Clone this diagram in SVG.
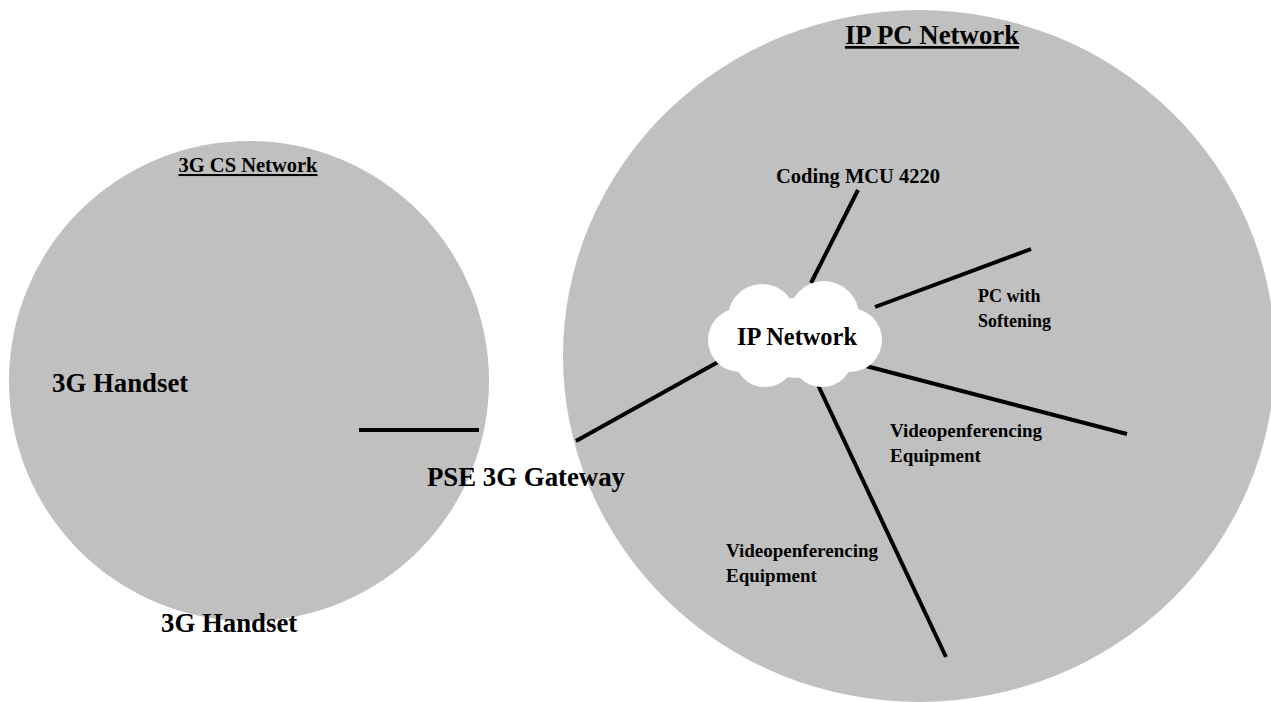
<svg xmlns="http://www.w3.org/2000/svg" width="1271" height="702" viewBox="0 0 1271 702">
<style>
text{font-family:"Liberation Serif","Times New Roman",serif;font-weight:bold;fill:#000}
.big{font-size:26.8px}
.mid{font-size:24.4px}
.sm{font-size:20.5px}
.vid{font-size:19px}
.pc{font-size:18px}
.ul{text-decoration:underline}
.net{fill:#c0c0c0}
.link{stroke:#000;stroke-width:4;fill:none}
.cloud circle{fill:#fff}
</style>
<rect width="1271" height="702" fill="#fff"/>
<g id="ip-pc-network">
<ellipse class="net" cx="919" cy="356" rx="356" ry="346"/>
<text class="big ul" x="932" y="44" text-anchor="middle">IP PC Network</text>
</g>
<g id="cs-network">
<circle class="net" cx="249" cy="381" r="240"/>
<text class="sm ul" x="248" y="172" text-anchor="middle">3G CS Network</text>
</g>
<g id="connectors">
<line class="link" x1="359" y1="430" x2="479" y2="430"/>
<line class="link" x1="576" y1="441" x2="718" y2="362"/>
<line class="link" x1="858" y1="190" x2="811" y2="283"/>
<line class="link" x1="875" y1="307" x2="1031" y2="249"/>
<line class="link" x1="866" y1="366" x2="1127" y2="434"/>
<line class="link" x1="818" y1="385" x2="946" y2="657"/>
</g>
<g id="ip-network" class="cloud">
<circle cx="762" cy="318" r="34"/>
<circle cx="824" cy="316" r="35"/>
<circle cx="740" cy="340" r="32"/>
<circle cx="850" cy="340" r="32"/>
<circle cx="765" cy="356" r="31"/>
<circle cx="822" cy="356" r="31"/>
<circle cx="795" cy="338" r="40"/>
<text class="mid" x="797" y="345" text-anchor="middle">IP Network</text>
</g>
<g id="handset-1"><text class="big" x="52" y="392">3G Handset</text></g>
<g id="handset-2"><text class="big" x="161" y="632">3G Handset</text></g>
<g id="gateway"><text class="big" x="427" y="486">PSE 3G Gateway</text></g>
<g id="mcu"><text class="sm" x="776" y="183">Coding MCU 4220</text></g>
<g id="pc"><text class="pc" x="978" y="302">PC with</text><text class="pc" x="978" y="327">Softening</text></g>
<g id="video-1"><text class="vid" x="890" y="437">Videopenferencing</text><text class="vid" x="890" y="462">Equipment</text></g>
<g id="video-2"><text class="vid" x="726" y="557">Videopenferencing</text><text class="vid" x="726" y="582">Equipment</text></g>
</svg>
